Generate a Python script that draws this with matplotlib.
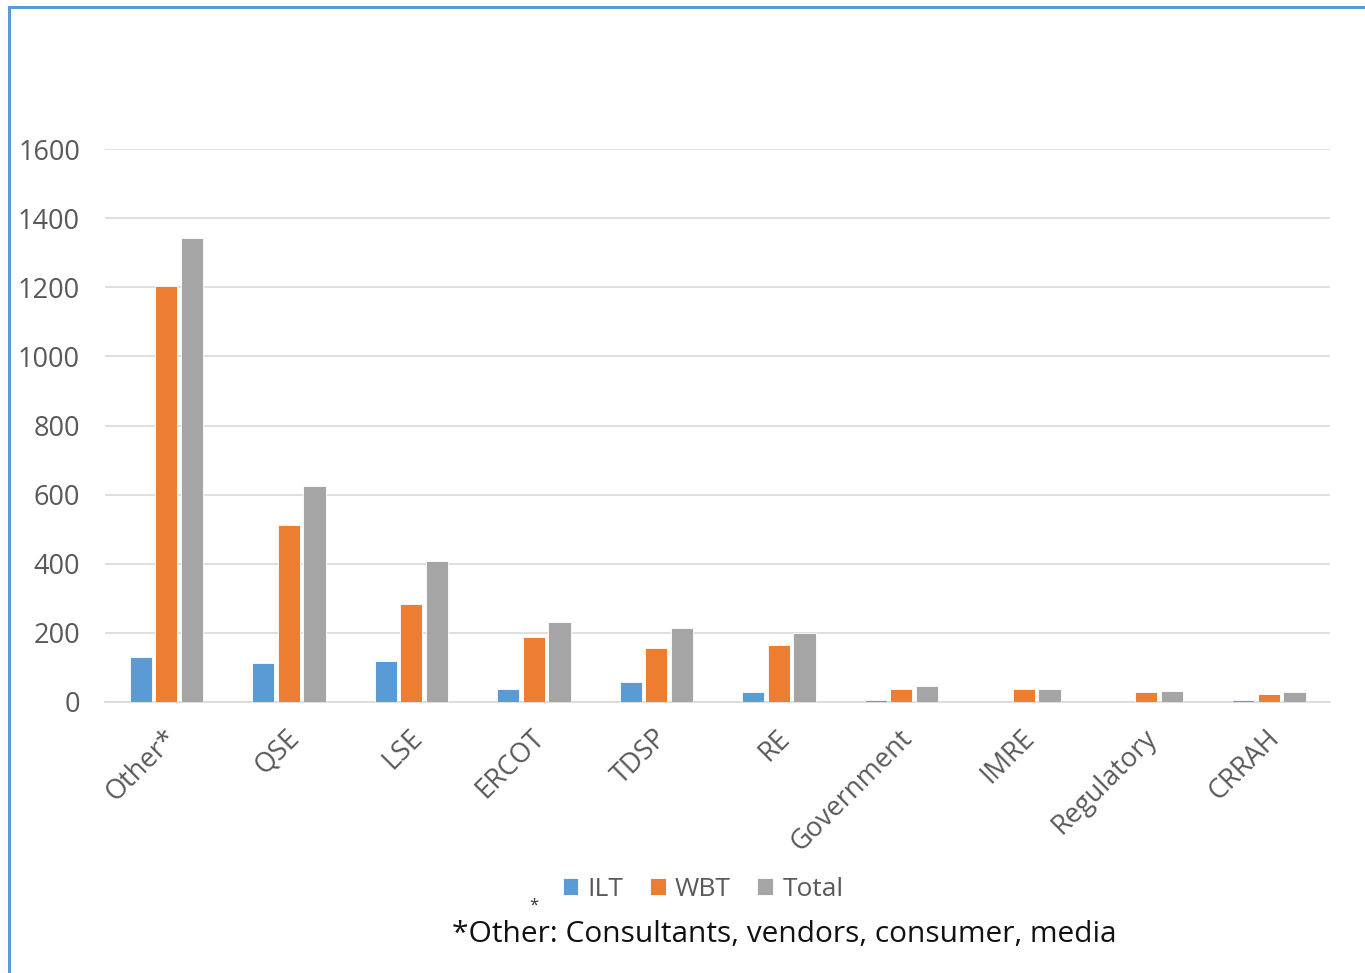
import matplotlib.pyplot as plt
import numpy as np
from matplotlib import transforms

plt.rcParams["font.family"] = ["Open Sans", "DejaVu Sans"]

categories = ["Other*", "QSE", "LSE", "ERCOT", "TDSP", "RE",
              "Government", "IMRE", "Regulatory", "CRRAH"]
ilt = [131, 114, 118, 37, 57, 28, 5, 0, 0, 5]
wbt = [1203, 512, 284, 189, 155, 166, 37, 37, 28, 22]
total = [1342, 626, 407, 231, 213, 199, 46, 37, 33, 28]
series_names = ["ILT", "WBT", "Total"]

BLUE = "#5b9bd5"
ORANGE = "#ed7d31"
GREY = "#a5a5a5"
TXT = "#595959"

W, H = 1365, 973
fig = plt.figure(figsize=(W / 100, H / 100), dpi=100)
fig.patch.set_facecolor("white")

# outer blue frame (left + top visible)
fig.add_artist(plt.Line2D([9 / W, 9 / W], [0, 1 - 7 / H], color=BLUE,
                          lw=2.2, transform=fig.transFigure))
fig.add_artist(plt.Line2D([9 / W, 1], [1 - 7 / H, 1 - 7 / H], color=BLUE,
                          lw=2.2, transform=fig.transFigure))

left, right, bottom, top = 105, 1330, 702, 149
ax = fig.add_axes([left / W, 1 - bottom / H, (right - left) / W, (bottom - top) / H])

x = np.arange(len(categories))
bw = 0.18
step = 0.21
for vals, col, name, off in zip([ilt, wbt, total], [BLUE, ORANGE, GREY],
                                series_names, [-step, 0, step]):
    ax.bar(x + off, vals, width=bw, color=col, edgecolor="white", lw=0.6,
           label=name, zorder=3)

ax.set_xlim(-0.5, len(categories) - 0.5)
ax.set_ylim(0, 1600)
ax.set_yticks(range(0, 1601, 200))
ax.yaxis.grid(True, color="#d9d9d9", lw=1.2, zorder=0)
ax.set_axisbelow(True)
for s in ["top", "right", "left"]:
    ax.spines[s].set_visible(False)
ax.spines["bottom"].set_color("#d9d9d9")
ax.spines["bottom"].set_linewidth(1.2)
ax.tick_params(axis="both", length=0, labelsize=19.5, colors=TXT)
ax.tick_params(axis="y", pad=18)
ax.tick_params(axis="x", pad=16)
ax.set_xticks(x)
ax.set_xticklabels(categories, rotation=45, ha="right", va="top",
                   rotation_mode="anchor")
shift = transforms.ScaledTranslation(-0.03, 0, fig.dpi_scale_trans)
for lab in ax.get_xticklabels():
    lab.set_transform(lab.get_transform() + shift)

fig.legend(loc="center", bbox_to_anchor=(703 / W, 1 - 889 / H), ncol=3,
           frameon=False, fontsize=19, handlelength=0.6, handleheight=0.6,
           handletextpad=0.35, columnspacing=1.0, labelcolor=TXT)

fig.text(534 / W, 1 - 906 / H, "*", fontsize=12, color="#333333",
         ha="center", va="center")
fig.text(784 / W, 1 - 935 / H, "*Other: Consultants, vendors, consumer, media",
         fontsize=21.5, color="#111111", ha="center", va="center")

fig.savefig("out.png", dpi=100, facecolor="white")
